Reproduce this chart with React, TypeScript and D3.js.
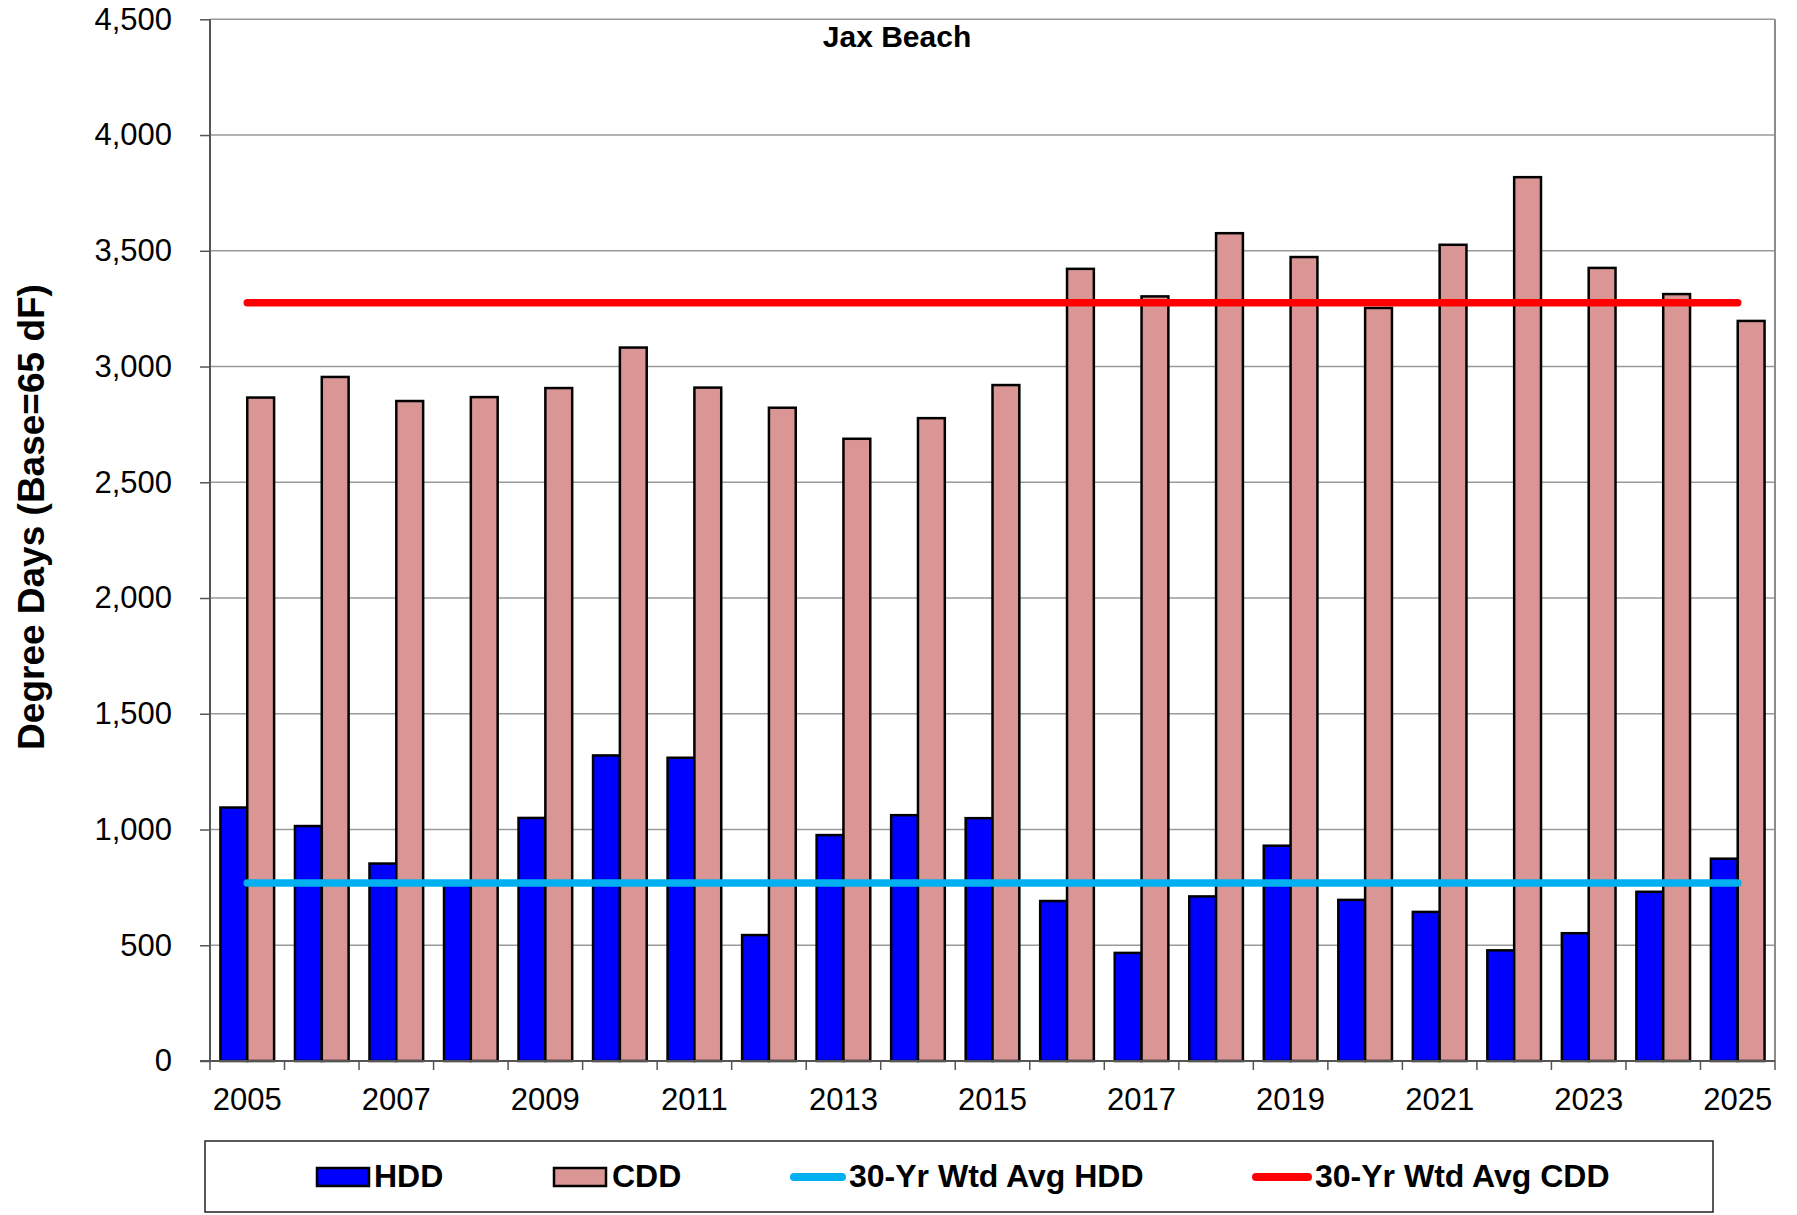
import React, { useEffect, useRef } from 'react';
import * as d3 from 'd3';

// data
const YEARS = ['2005', '2006', '2007', '2008', '2009', '2010', '2011', '2012', '2013', '2014', '2015',
  '2016', '2017', '2018', '2019', '2020', '2021', '2022', '2023', '2024', '2025'];
const HDD = [1095, 1015, 853, 772, 1050, 1320, 1310, 544, 976, 1062, 1049,
  691, 467, 711, 930, 696, 644, 478, 552, 731, 874];
const CDD = [2866, 2955, 2851, 2868, 2907, 3082, 2909, 2822, 2688, 2777, 2920,
  3422, 3303, 3576, 3473, 3253, 3526, 3818, 3426, 3313, 3197];
const AVG_HDD = 769;
const AVG_CDD = 3276;
const Y_TICKS = [0, 500, 1000, 1500, 2000, 2500, 3000, 3500, 4000, 4500];
const X_LABELS = ['2005', '2007', '2009', '2011', '2013', '2015', '2017', '2019', '2021', '2023', '2025'];

const W = 1797;
const H = 1215;
const PLOT = { left: 210, right: 1775, top: 19.3, bottom: 1061 };
const FONT = '"Liberation Sans", Arial, sans-serif';

const COLORS = { hdd: '#0000FF', cdd: '#DA9694', avgHdd: '#00B0F0', avgCdd: '#FF0000' };

const DegreeDaysChart = () => {
  const yAxisRef = useRef(null);

  const x = d3.scaleBand().domain(YEARS).range([PLOT.left, PLOT.right]).padding(0);
  const y = d3.scaleLinear().domain([0, 4500]).range([PLOT.bottom, PLOT.top]);

  const band = x.bandwidth();
  const gap = band * 0.28;
  const barW = (band - gap) / 2;

  useEffect(() => {
    const g = d3.select(yAxisRef.current);
    g.selectAll('*').remove();
    const axis = d3.axisLeft(y).tickValues(Y_TICKS).tickSize(10).tickPadding(28).tickFormat(d3.format(','));
    g.attr('transform', `translate(${PLOT.left},0)`).call(axis);
    g.select('.domain').remove();
    g.selectAll('.tick line').attr('stroke', '#555').attr('stroke-width', 1.5);
    g.selectAll('.tick text')
      .attr('font-family', FONT)
      .attr('font-size', 31)
      .attr('fill', '#000');
  }, []);

  const avgLine = (v) => d3.line()([
    [x(YEARS[0]) + band / 2, y(v)],
    [x(YEARS[YEARS.length - 1]) + band / 2, y(v)],
  ]);

  return (
    <svg width={W} height={H} style={{ position: 'absolute', left: 0, top: 0, background: '#fff' }}>
      {/* rejilla */}
      {Y_TICKS.filter(t => t > 0).map(t => (
        <line key={t} x1={PLOT.left} x2={PLOT.right} y1={y(t)} y2={y(t)} stroke="#9a9a9a" strokeWidth={1.5} />
      ))}
      <line x1={PLOT.right} x2={PLOT.right} y1={PLOT.top} y2={PLOT.bottom} stroke="#8c8c8c" strokeWidth={2} />

      {/* barras */}
      {YEARS.map((yr, i) => {
        const x0 = x(yr) + gap / 2;
        return (
          <g key={yr} stroke="#000" strokeWidth={2.5}>
            <rect x={x0} y={y(HDD[i])} width={barW} height={y(0) - y(HDD[i])} fill={COLORS.hdd} />
            <rect x={x0 + barW} y={y(CDD[i])} width={barW} height={y(0) - y(CDD[i])} fill={COLORS.cdd} />
          </g>
        );
      })}

      {/* promedios */}
      <path d={avgLine(AVG_CDD)} stroke={COLORS.avgCdd} strokeWidth={7.5} strokeLinecap="round" fill="none" />
      <path d={avgLine(AVG_HDD)} stroke={COLORS.avgHdd} strokeWidth={7.5} strokeLinecap="round" fill="none" />

      {/* ejes */}
      <line x1={PLOT.left} x2={PLOT.left} y1={PLOT.top} y2={PLOT.bottom} stroke="#555" strokeWidth={2} />
      <line x1={PLOT.left - 10} x2={PLOT.right} y1={PLOT.bottom} y2={PLOT.bottom} stroke="#555" strokeWidth={2} />
      <g ref={yAxisRef} />
      {[...YEARS.map(yr => x(yr)), PLOT.right].map((px, i) => (
        <line key={i} x1={px} x2={px} y1={PLOT.bottom} y2={PLOT.bottom + 9} stroke="#555" strokeWidth={1.5} />
      ))}
      {X_LABELS.map(yr => (
        <text key={yr} x={x(yr) + band / 2} y={1110} textAnchor="middle" fontFamily={FONT} fontSize={31}>{yr}</text>
      ))}

      {/* titulos */}
      <text x={897} y={46.5} textAnchor="middle" fontFamily={FONT} fontSize={30} fontWeight="bold">Jax Beach</text>
      <text transform="translate(44,517) rotate(-90)" textAnchor="middle" fontFamily={FONT} fontSize={37} fontWeight="bold">
        Degree Days (Base=65 dF)
      </text>

      {/* leyenda */}
      <rect x={205} y={1141} width={1508} height={71} fill="#fff" stroke="#222" strokeWidth={1.5} />
      <rect x={317} y={1168} width={52} height={18} fill={COLORS.hdd} stroke="#000" strokeWidth={2.5} />
      <text x={374} y={1187} fontFamily={FONT} fontSize={32} fontWeight="bold">HDD</text>
      <rect x={554} y={1168} width={52} height={18} fill={COLORS.cdd} stroke="#000" strokeWidth={2.5} />
      <text x={612} y={1187} fontFamily={FONT} fontSize={32} fontWeight="bold">CDD</text>
      <line x1={794} x2={842} y1={1177} y2={1177} stroke={COLORS.avgHdd} strokeWidth={8} strokeLinecap="round" />
      <text x={849} y={1187} fontFamily={FONT} fontSize={32} fontWeight="bold">30-Yr Wtd Avg HDD</text>
      <line x1={1256} x2={1308} y1={1177} y2={1177} stroke={COLORS.avgCdd} strokeWidth={8} strokeLinecap="round" />
      <text x={1315} y={1187} fontFamily={FONT} fontSize={32} fontWeight="bold">30-Yr Wtd Avg CDD</text>
    </svg>
  );
};

export default function App() {
  return <DegreeDaysChart />;
}
